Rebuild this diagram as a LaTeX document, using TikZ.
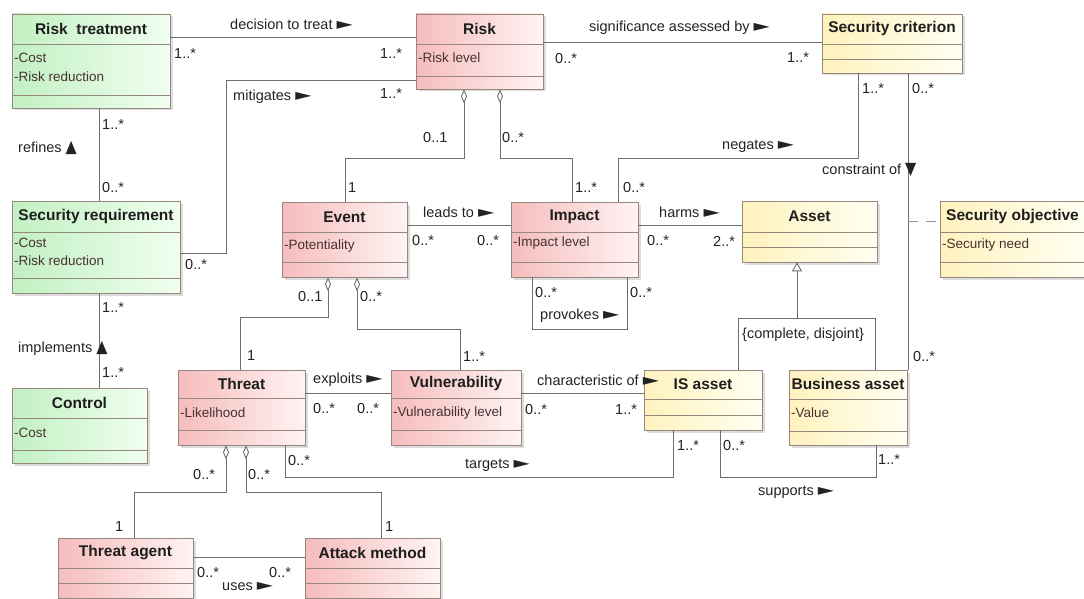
\documentclass[tikz,border=0pt]{standalone}
\usepackage{fontspec}
\setmainfont{Liberation Sans}
\newfontfamily\symfont{DejaVu Sans}
\usetikzlibrary{arrows.meta,shadows,fit,calc}

\definecolor{riskL}{RGB}{246,188,188}
\definecolor{riskR}{RGB}{255,243,243}
\definecolor{treatL}{RGB}{194,240,194}
\definecolor{treatR}{RGB}{240,255,240}
\definecolor{assetL}{RGB}{255,242,190}
\definecolor{assetR}{RGB}{255,255,242}
\definecolor{boxline}{RGB}{150,136,126}
\definecolor{linegray}{RGB}{110,110,110}
\definecolor{titletext}{RGB}{30,30,30}
\definecolor{attrtext}{RGB}{70,50,50}
\definecolor{labeltext}{RGB}{35,35,35}

\newcommand{\rtri}{\scalebox{1.45}[1.1]{\symfont\char"25BA}}
\newcommand{\utri}{\scalebox{1}[1.2]{\symfont\char"25B2}}
\newcommand{\dtri}{\scalebox{1}[1.2]{\symfont\char"25BC}}

% class box: name, colour style, corner, corner, first and second separator, title
\newcommand{\umlclass}[7]{%
  \node[classbox, #2, fit={#3 #4}] (#1) {};
  \draw[sepline] (#1.west |- 0,#5) -- (#1.east |- 0,#5);
  \draw[sepline] (#1.west |- 0,#6) -- (#1.east |- 0,#6);
  \node[classtitle] (#1-t) at ($(#1.north west)!0.5!(#1.east |- 0,#5)$) {#7};
}

\begin{document}
\begin{tikzpicture}[x=1pt, y=-1pt,
  classbox/.style={draw=boxline, line width=0.6pt, inner sep=0pt,
    drop shadow={shadow xshift=2.5pt, shadow yshift=-2.5pt, fill=gray!55}},
  redbox/.style={left color=riskL, right color=riskR},
  greenbox/.style={left color=treatL, right color=treatR},
  yellowbox/.style={left color=assetL, right color=assetR},
  sepline/.style={draw=boxline, line width=0.6pt},
  classtitle/.style={font=\fontsize{15.5}{18}\selectfont\bfseries, text=titletext, inner sep=0pt},
  attr/.style={font=\fontsize{13.5}{16}\selectfont, text=attrtext, anchor=west, inner sep=0pt},
  lbl/.style={font=\fontsize{14.5}{17}\selectfont, text=labeltext, anchor=west, inner sep=0pt},
  assoc/.style={draw=linegray, line width=0.9pt},
  agg/.style={assoc, {Diamond[open, length=14pt, width=6pt]}-},
  gen/.style={assoc, {Triangle[open, length=9pt, width=10pt]}-}]
\useasboundingbox (0,0) rectangle (1084,599);

% classes
\umlclass{rtreat}{greenbox}{(12,14)}{(170,108)}{44}{95}{Risk\ \ treatment}
\umlclass{risk}{redbox}{(416,14)}{(543,89)}{44}{76}{Risk}
\umlclass{scrit}{yellowbox}{(822,14)}{(962,73)}{44}{59}{Security criterion}
\umlclass{sreq}{greenbox}{(12,201)}{(180,293)}{232}{278}{Security requirement}
\umlclass{event}{redbox}{(282,202)}{(407,277)}{232}{262}{Event}
\umlclass{impact}{redbox}{(511,202)}{(638,277)}{232}{262}{Impact}
\umlclass{asset}{yellowbox}{(742,201)}{(877,262)}{232}{247}{Asset}
\umlclass{secobj}{yellowbox}{(940,201)}{(1085,277)}{232}{262}{Security objective}
\umlclass{control}{greenbox}{(12,388)}{(147,463)}{418}{450}{Control}
\umlclass{threat}{redbox}{(178,370)}{(305,445)}{398}{430}{Threat}
\umlclass{vuln}{redbox}{(391,370)}{(521,445)}{398}{430}{Vulnerability}
\umlclass{isasset}{yellowbox}{(644,370)}{(762,430)}{399}{415}{IS asset}
\umlclass{basset}{yellowbox}{(789,370)}{(907,445)}{399}{431}{Business asset}
\umlclass{tagent}{redbox}{(58,538)}{(193,598)}{568}{583}{Threat agent}
\umlclass{attack}{redbox}{(305,538)}{(440,598)}{568}{583}{Attack method}

% attributes
\node[attr] (rtreat-a1) at (14,58) {-Cost};
\node[attr] (rtreat-a2) at (14,77) {-Risk reduction};
\node[attr] (risk-a1) at (418,58) {-Risk level};
\node[attr] (sreq-a1) at (14,243) {-Cost};
\node[attr] (sreq-a2) at (14,261) {-Risk reduction};
\node[attr] (event-a1) at (284,246) {-Potentiality};
\node[attr] (impact-a1) at (513,243) {-Impact level};
\node[attr] (secobj-a1) at (942,245) {-Security need};
\node[attr] (control-a1) at (14,433) {-Cost};
\node[attr] (threat-a1) at (180,413) {-Likelihood};
\node[attr] (vuln-a1) at (393,413) {-Vulnerability level};
\node[attr] (basset-a1) at (791,413) {-Value};

% associations
\draw[assoc] (rtreat.east |- 0,37) -- (risk.west |- 0,37);
\draw[assoc] (risk.west |- 0,80) -| (226,253) -- (sreq.east |- 0,253);
\draw[assoc] (rtreat.south -| 99,0) -- (sreq.north -| 99,0);
\draw[assoc] (sreq.south -| 99,0) -- (control.north -| 99,0);
\draw[agg] (risk.south -| 464,0) |- (345,158) -- (event.north -| 345,0);
\draw[agg] (risk.south -| 500,0) |- (572,158) -- (impact.north -| 572,0);
\draw[assoc] (scrit.south -| 858,0) |- (618,158) -- (impact.north -| 618,0);
\draw[assoc] (risk.east |- 0,42) -- (scrit.west |- 0,42);
\draw[assoc] (scrit.south -| 908,0) -- (basset.north -| 908,0);
\coordinate (cons) at (908,221);
\draw[assoc, draw=gray!85, dash pattern=on 10pt off 8pt] (cons) -- (secobj.west |- cons);
\draw[assoc] (event.east |- 0,225) -- (impact.west |- 0,225);
\draw[assoc] (impact.east |- 0,225) -- (asset.west |- 0,225);
\draw[assoc] (impact.south -| 532,0) |- (627,329) -- (impact.south -| 627,0);
\draw[gen] (asset.south -| 797,0) -- (797,318);
\draw[assoc] (isasset.north -| 738,0) |- (875,318) -- (basset.north -| 875,0);
\draw[agg] (event.south -| 328,0) |- (240,317) -- (threat.north -| 240,0);
\draw[agg] (event.south -| 357,0) |- (460,329) -- (vuln.north -| 460,0);
\draw[assoc] (threat.east |- 0,393) -- (vuln.west |- 0,393);
\draw[assoc] (vuln.east |- 0,393) -- (isasset.west |- 0,393);
\draw[assoc] (threat.south -| 285,0) |- (673,477) -- (isasset.south -| 673,0);
\draw[assoc] (isasset.south -| 720,0) |- (876,477) -- (basset.south -| 876,0);
\draw[agg] (threat.south -| 226,0) |- (134,492) -- (tagent.north -| 134,0);
\draw[agg] (threat.south -| 246,0) |- (381,492) -- (attack.north -| 381,0);
\draw[assoc] (tagent.east |- 0,557) -- (attack.west |- 0,557);

% association names
\node[lbl] (n1) at (230,24) {decision to treat \rtri};
\node[lbl] (n2) at (233,97) {mitigates \rtri};
\node[lbl] (n3) at (18,148) {refines \utri};
\node[lbl] (n4) at (18,348) {implements \utri};
\node[lbl] (n5) at (589,28) {significance assessed by \rtri};
\node[lbl] (n6) at (722,146) {negates \rtri};
\node[lbl] (n7) at (822,170) {constraint of \dtri};
\node[lbl] (n8) at (423,212) {leads to \rtri};
\node[lbl] (n9) at (659,212) {harms \rtri};
\node[lbl] (n10) at (540,316) {provokes \rtri};
\node[lbl] (n11) at (742,335) {\{complete, disjoint\}};
\node[lbl] (n12) at (313,380) {exploits \rtri};
\node[lbl] (n13) at (537,380) {characteristic of \rtri};
\node[lbl] (n14) at (465,465) {targets \rtri};
\node[lbl] (n15) at (758,492) {supports \rtri};
\node[lbl] (n16) at (222,587) {uses \rtri};

% multiplicities
\node[lbl] (m1) at (174,54) {1..*};
\node[lbl] (m2) at (380,54) {1..*};
\node[lbl] (m3) at (380,94) {1..*};
\node[lbl] (m4) at (185,265) {0..*};
\node[lbl] (m5) at (102,125) {1..*};
\node[lbl] (m6) at (102,188) {0..*};
\node[lbl] (m7) at (102,308) {1..*};
\node[lbl] (m8) at (102,373) {1..*};
\node[lbl] (m9) at (423,138) {0..1};
\node[lbl] (m10) at (348,188) {1};
\node[lbl] (m11) at (502,138) {0..*};
\node[lbl] (m12) at (575,188) {1..*};
\node[lbl] (m13) at (862,89) {1..*};
\node[lbl] (m14) at (623,188) {0..*};
\node[lbl] (m15) at (555,59) {0..*};
\node[lbl] (m16) at (787,58) {1..*};
\node[lbl] (m17) at (912,89) {0..*};
\node[lbl] (m18) at (913,357) {0..*};
\node[lbl] (m19) at (412,241) {0..*};
\node[lbl] (m20) at (477,241) {0..*};
\node[lbl] (m21) at (647,241) {0..*};
\node[lbl] (m22) at (713,241) {2..*};
\node[lbl] (m23) at (535,293) {0..*};
\node[lbl] (m24) at (630,293) {0..*};
\node[lbl] (m25) at (298,297) {0..1};
\node[lbl] (m26) at (247,356) {1};
\node[lbl] (m27) at (360,297) {0..*};
\node[lbl] (m28) at (463,357) {1..*};
\node[lbl] (m29) at (313,409) {0..*};
\node[lbl] (m30) at (357,409) {0..*};
\node[lbl] (m31) at (525,410) {0..*};
\node[lbl] (m32) at (615,410) {1..*};
\node[lbl] (m33) at (288,461) {0..*};
\node[lbl] (m34) at (677,446) {1..*};
\node[lbl] (m35) at (723,446) {0..*};
\node[lbl] (m36) at (878,460) {1..*};
\node[lbl] (m37) at (193,475) {0..*};
\node[lbl] (m38) at (115,527) {1};
\node[lbl] (m39) at (248,475) {0..*};
\node[lbl] (m40) at (385,527) {1};
\node[lbl] (m41) at (197,573) {0..*};
\node[lbl] (m42) at (269,573) {0..*};
\end{tikzpicture}
\end{document}
